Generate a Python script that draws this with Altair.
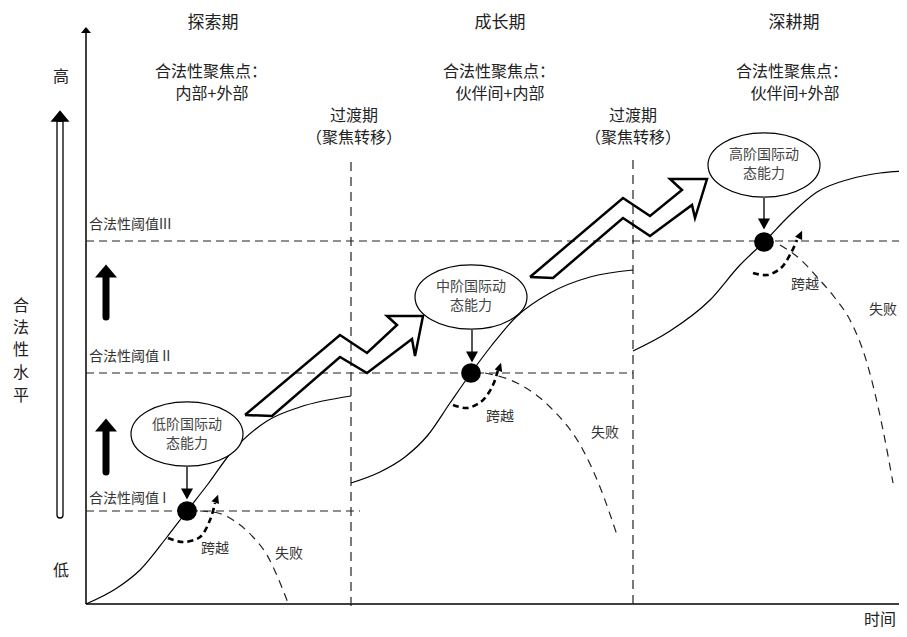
import altair as alt
import pandas as pd

FONT = "Noto Sans CJK SC"
W, H = 891, 621
X0, Y0 = 8, 8

# ---------------- data ----------------
period_titles = ["探索期", "成长期", "深耕期"]
period_title_x = [213, 500, 794]
focus_titles = ["合法性聚焦点：", "合法性聚焦点：", "合法性聚焦点："]
focus_title_x = [211, 499, 792]
focus_values = ["内部+外部", "伙伴间+内部", "伙伴间+外部"]
focus_value_x = [212, 500, 795]
transition_x = [354, 633]

threshold_labels = ["合法性阈值 I", "合法性阈值 II", "合法性阈值III"]
threshold_y = [511, 373, 241]
threshold_end_x = [360, 633, 907]
threshold_label_y = [499, 357, 225]

stage_x = [351, 633]
stage_top_y = [162, 160]
stage_bottom_y = [607, 604]

curve1_x = [86, 117, 140, 167, 187, 208, 230, 267, 300, 351]
curve1_y = [604, 588, 570, 537, 511, 484, 454, 421, 407, 396]
curve2_x = [351, 380, 405, 428, 450, 471, 492, 515, 550, 590, 633]
curve2_y = [483, 472, 457, 435, 403, 373, 345, 318, 293, 277, 270]
curve3_x = [633, 670, 710, 740, 764, 790, 817, 850, 880, 907]
curve3_y = [351, 331, 300, 265, 242, 215, 192, 179, 173, 171]

fail1_x = [200, 218, 233, 253, 267, 278, 288]
fail1_y = [511, 513, 520, 537, 555, 578, 603]
fail2_x = [485, 517, 550, 583, 600, 618]
fail2_y = [373, 383, 407, 450, 487, 538]
fail3_x = [780, 800, 817, 835, 850, 867, 883, 893]
fail3_y = [245, 259, 277, 298, 320, 363, 430, 483]

cross1_x = [168, 183, 200, 210, 215]
cross1_y = [538, 542, 537, 520, 503]
cross2_x = [453, 467, 482, 493, 498]
cross2_y = [405, 408, 401, 385, 370]
cross3_x = [753, 767, 781, 791, 797]
cross3_y = [273, 275, 268, 253, 240]
cross_head_x = [216.3, 499.4, 799.9]
cross_head_y = [499.7, 367.7, 235.5]
cross_head_angle = [20, 18, 25]

dot_x = [187, 471, 764]
dot_y = [511, 373, 242]

ellipse_x = [187, 471, 764]
ellipse_y = [434, 297, 165]
ellipse_top_text = ["低阶国际动", "中阶国际动", "高阶国际动"]
ellipse_bottom_text = ["态能力", "态能力", "态能力"]
ellipse_top_text_y = [425, 287, 155]
ellipse_bottom_text_y = [444, 306, 174]

down_x = [187, 472, 764]
down_top_y = [467, 330, 197]
down_head_y = [494, 357, 224]

zig1_x = [245, 340, 367, 397, 387, 423, 415, 412, 367, 340, 272, 245]
zig1_y = [415, 335, 353, 325, 316, 316, 356, 339, 373, 357, 416, 415]
zig2_x = [530, 623, 650, 682, 670, 707, 695, 692, 650, 623, 553, 530]
zig2_y = [277, 198, 216, 190, 179, 179, 218, 205, 236, 218, 278, 277]

cross_labels = ["跨越", "跨越", "跨越"]
cross_label_x = [215, 500, 805]
cross_label_y = [549, 417, 285]
fail_labels = ["失败", "失败", "失败"]
fail_label_x = [289, 605, 883]
fail_label_y = [554, 433, 310]

level_chars = ["合", "法", "性", "水", "平"]
level_char_y = [306, 328, 350, 373, 396]

# ---------------- scales / helpers ----------------
xs = alt.Scale(domain=[X0, X0 + W], nice=False, zero=False)
ys = alt.Scale(domain=[Y0, Y0 + H], nice=False, zero=False, reverse=True)


def ex(f="x"):
    return alt.X(f"{f}:Q", scale=xs, axis=None)


def ey(f="y"):
    return alt.Y(f"{f}:Q", scale=ys, axis=None)


def rules(rows, **kw):
    df = pd.DataFrame(rows, columns=["x", "y", "x2", "y2"])
    return alt.Chart(df).mark_rule(**kw).encode(
        x=ex(), y=ey(), x2=alt.X2("x2:Q"), y2=alt.Y2("y2:Q"))


def lines(series, **kw):
    recs = []
    for gid, (xv, yv) in enumerate(series):
        for i, (a, b) in enumerate(zip(xv, yv)):
            recs.append({"g": gid, "o": i, "x": a, "y": b})
    df = pd.DataFrame(recs)
    return alt.Chart(df).mark_line(**kw).encode(
        x=ex(), y=ey(), detail="g:N", order="o:Q")


def shapes(xv, yv, shape, size, angle=None, **kw):
    df = pd.DataFrame({"x": xv, "y": yv,
                       "a": angle if angle is not None else [0] * len(xv)})
    return alt.Chart(df).mark_point(shape=shape, size=size, opacity=1, **kw).encode(
        x=ex(), y=ey(), angle=alt.Angle("a:Q", scale=None))


def texts(rows, align="center", **kw):
    df = pd.DataFrame(rows, columns=["x", "y", "t", "fs", "c"])
    return alt.Chart(df).mark_text(align=align, baseline="middle", font=FONT, **kw).encode(
        x=ex(), y=ey(), text="t:N",
        size=alt.Size("fs:Q", scale=None), color=alt.Color("c:N", scale=None))


TRI_UP = "M 0 -0.6 L 1 0.6 L -1 0.6 Z"
TRI_DOWN = "M -1 -0.9 L 1 -0.9 L 0 0.9 Z"
TRI_SMALL = "M 0 -1 L 0.75 0.6 L -0.75 0.6 Z"
k, e = 0.5523, 0.575
ELLIPSE = (f"M -1 0 C -1 {-k*e:.4f} {-k} {-e} 0 {-e} "
           f"C {k} {-e} 1 {-k*e:.4f} 1 0 "
           f"C 1 {k*e:.4f} {k} {e} 0 {e} "
           f"C {-k} {e} -1 {k*e:.4f} -1 0 Z")

layers = []

# axes
layers.append(rules([[86, 604, 907, 604], [86, 604, 86, 31]],
                    color="black", strokeWidth=1.5))
layers.append(shapes([86], [30], TRI_UP, 100, filled=True, fill="black", strokeWidth=0))

# threshold lines
layers.append(rules([[86, y, xe, y] for y, xe in zip(threshold_y, threshold_end_x)],
                    color="#222", strokeWidth=1.2, strokeDash=[8, 5]))
# stage separators
layers.append(rules([[x, t, x, b] for x, t, b in zip(stage_x, stage_top_y, stage_bottom_y)],
                    color="#222", strokeWidth=1.2, strokeDash=[9, 6]))

# solid growth curves
layers.append(lines([(curve1_x, curve1_y), (curve2_x, curve2_y), (curve3_x, curve3_y)],
                    interpolate="monotone", color="black", strokeWidth=1.2))
# failure curves
layers.append(lines([(fail1_x, fail1_y), (fail2_x, fail2_y), (fail3_x, fail3_y)],
                    interpolate="monotone", color="#222", strokeWidth=1.2, strokeDash=[8, 6]))
# crossing arcs
layers.append(lines([(cross1_x, cross1_y), (cross2_x, cross2_y), (cross3_x, cross3_y)],
                    interpolate="catmull-rom", color="black", strokeWidth=2.6, strokeDash=[6, 4]))
layers.append(shapes(cross_head_x, cross_head_y, TRI_SMALL, 110, angle=cross_head_angle,
                     filled=True, fill="black", strokeWidth=0))

# zigzag arrows
layers.append(lines([(zig1_x, zig1_y), (zig2_x, zig2_y)],
                    interpolate="linear", color="black", strokeWidth=2.5, strokeJoin="miter"))

# ellipses
layers.append(shapes(ellipse_x, ellipse_y, ELLIPSE, 12544, filled=False,
                     fill="white", fillOpacity=1, stroke="black", strokeWidth=1.2))

# arrows from ellipses to dots
layers.append(rules([[x, t, x, h - 5] for x, t, h in zip(down_x, down_top_y, down_head_y)],
                    color="#555", strokeWidth=2))
layers.append(shapes(down_x, down_head_y, TRI_DOWN, 144, filled=True, fill="black", strokeWidth=0))

# dots
layers.append(alt.Chart(pd.DataFrame({"x": dot_x, "y": dot_y})).mark_circle(
    size=390, color="black", opacity=1).encode(x=ex(), y=ey()))

# left hollow arrow
layers.append(alt.Chart(pd.DataFrame({"x": [57], "x2": [63], "y": [121], "y2": [518]}))
              .mark_rect(fill="white", stroke="black", strokeWidth=1.3,
                         cornerRadiusBottomLeft=3, cornerRadiusBottomRight=3)
              .encode(x=ex(), x2="x2:Q", y=ey(), y2="y2:Q"))
layers.append(shapes([60], [116], TRI_UP, 361, filled=True, fill="black", strokeWidth=0))

# bold arrows
layers.append(rules([[106, 276, 106, 317], [106, 430, 106, 472]],
                    color="black", strokeWidth=7, strokeCap="round"))
layers.append(shapes([106, 106], [271, 425], TRI_UP, 484, filled=True, fill="black", strokeWidth=0))

# texts (centered)
rows = []
for t, x in zip(period_titles, period_title_x):
    rows.append([x, 23, t, 17, "#222"])
for t, x in zip(focus_titles, focus_title_x):
    rows.append([x, 72, t, 16, "#222"])
for t, x in zip(focus_values, focus_value_x):
    rows.append([x, 94, t, 16, "#222"])
for x in transition_x:
    rows.append([x, 116, "过渡期", 16, "#222"])
    rows.append([x, 138, "（聚焦转移）", 16, "#222"])
rows.append([61, 77, "高", 16, "#222"])
rows.append([61, 571, "低", 16, "#222"])
for ch, y in zip(level_chars, level_char_y):
    rows.append([21, y, ch, 16, "#222"])
for x, t1, t2, y1, y2 in zip(ellipse_x, ellipse_top_text, ellipse_bottom_text,
                             ellipse_top_text_y, ellipse_bottom_text_y):
    rows.append([x, y1, t1, 14, "#444"])
    rows.append([x, y2, t2, 14, "#444"])
for t, x, y in zip(cross_labels, cross_label_x, cross_label_y):
    rows.append([x, y, t, 14, "#333"])
for t, x, y in zip(fail_labels, fail_label_x, fail_label_y):
    rows.append([x, y, t, 14, "#333"])
rows.append([880, 620, "时间", 16, "#222"])
layers.append(texts(rows))

# threshold labels (left aligned)
layers.append(texts([[89, y, t, 14, "#333"] for t, y in zip(threshold_labels, threshold_label_y)],
                    align="left"))

chart = alt.layer(*layers).properties(
    width=W, height=H, padding=0, autosize=alt.AutoSizeParams(type="none"),
    background="white"
).configure_view(stroke=None)

chart.save("out.html", embed_options={"renderer": "svg", "actions": False})
